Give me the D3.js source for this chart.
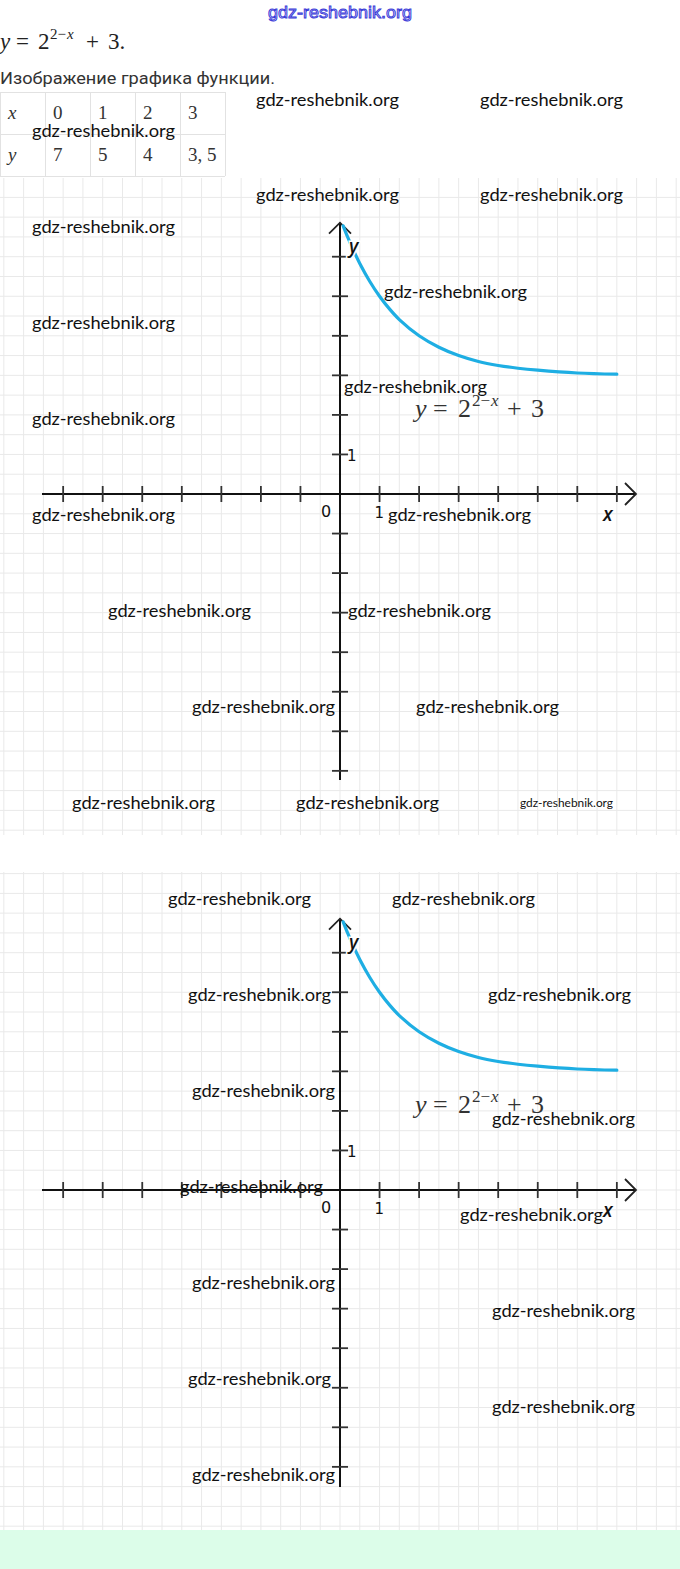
<!DOCTYPE html>
<html><head><meta charset="utf-8">
<script src="https://cdn.jsdelivr.net/npm/d3@7/dist/d3.min.js"></script>
<style>html,body{margin:0;padding:0;background:#fff;}svg{display:block;}</style>
</head><body>
<script>
// ---- data ----
const tableX = ["0","1","2","3"];
const tableY = ["7","5","4","3, 5"];
const curveX = [0.08, 0.2, 0.35, 0.5, 0.75, 1, 1.25, 1.5, 2, 2.5, 3, 3.5, 4, 4.5, 5, 6, 7];
const curveY = [6.78, 6.48, 6.14, 5.83, 5.38, 5, 4.68, 4.41, 4, 3.71, 3.5, 3.35, 3.25, 3.18, 3.13, 3.06, 3.03];
const xTicks = [-7,-6,-5,-4,-3,-2,-1,1,2,3,4,5,6,7];
const yTicks = [-7,-6,-5,-4,-3,-2,-1,1,2,3,4,5,6];
const watermark = "gdz-reshebnik.org";
// watermark anchors [left, centerY, width]
const marks1 = [[256,100,143],[480,100,143],[32,131,143],[256,195,143],[480,195,143],[32,227,143],[384,292,143],[32,323,143],[344,387,143],[32,419,143],[32,515,143],[388,515,143],[108,611,143],[348,611,143],[192,707,143],[416,707,143],[72,803,143],[296,803,143],[520,801,93]];
const marks2 = [[168,899,143],[392,899,143],[188,995,143],[488,995,143],[192,1091,143],[492,1119,143],[180,1187,143],[460,1215,143],[192,1283,143],[492,1311,143],[188,1379,143],[492,1407,143],[192,1475,143]];

const W = 680, H = 1569;
const svg = d3.select("body").append("svg").attr("width", W).attr("height", H);

// bottom band
svg.append("rect").attr("x",0).attr("y",1530).attr("width",W).attr("height",H-1530).attr("fill","#dcfde9");

const serif = "'Liberation Serif','DejaVu Serif',serif";

// formula helper: parts [text, x, dy, size, italic]
function formula(parent, baseY, parts, color) {
  const t = parent.append("text").attr("y", baseY).attr("font-family", serif).attr("fill", color);
  parts.forEach(p => {
    t.append("tspan").attr("x", p[1]).attr("y", baseY + p[2]).attr("font-size", p[3])
      .attr("font-style", p[4] ? "italic" : "normal").text(p[0]);
  });
}

// header
formula(svg, 49, [["y",0,0,23,true],["=",16,0,23,false],["2",38,0,23,false],["2−",50,-10,15,false],["x",67,-10,15,true],["+",86,0,23,false],["3.",108,0,23,false]], "#222");

svg.append("text").attr("x",0).attr("y",84).attr("font-family","Roboto,'Noto Sans',sans-serif")
  .attr("font-size",17).attr("fill","#333").attr("textLength",275).attr("lengthAdjust","spacingAndGlyphs")
  .text("Изображение графика функции.");

// table
const colX = [0,45,90,135,180,225];
const rowY = [92,134,176];
const tb = svg.append("g");
colX.forEach(x => tb.append("line").attr("x1",x+0.5).attr("x2",x+0.5).attr("y1",rowY[0]).attr("y2",rowY[2]).attr("stroke","#e2e2e2"));
rowY.forEach(y => tb.append("line").attr("x1",0).attr("x2",225).attr("y1",y+0.5).attr("y2",y+0.5).attr("stroke","#e2e2e2"));
tb.append("text").attr("x",8).attr("y",119).attr("font-family",serif).attr("font-style","italic").attr("font-size",19).attr("fill","#333").text("x");
tb.append("text").attr("x",8).attr("y",161).attr("font-family",serif).attr("font-style","italic").attr("font-size",19).attr("fill","#333").text("y");
tableX.forEach((t,i) => tb.append("text").attr("x",colX[i+1]+8).attr("y",119).attr("font-family",serif).attr("font-size",19).attr("fill","#333").text(t));
tableY.forEach((t,i) => tb.append("text").attr("x",colX[i+1]+8).attr("y",161).attr("font-family",serif).attr("font-size",19).attr("fill","#333").text(t));

// graphs
const unit = 39.55;
const x = d3.scaleLinear().domain([-7,7]).range([340-7*unit, 340+7*unit]);

function drawGraph(axisY, gridTop, gridBottom, axisBottom) {
  const y = d3.scaleLinear().domain([-7,7]).range([axisY+7*unit, axisY-7*unit]);
  const g = svg.append("g");
  // grid
  const gx = d3.range(-17,18).map(k => x(0) + k*unit/2);
  const gy = d3.range(-20,20).map(k => y(0) + k*unit/2).filter(v => v>=gridTop && v<=gridBottom);
  gx.forEach(v => g.append("line").attr("x1",v).attr("x2",v).attr("y1",gridTop).attr("y2",gridBottom).attr("stroke","#e9e9e9").attr("stroke-width",1));
  gy.forEach(v => g.append("line").attr("x1",0).attr("x2",W).attr("y1",v).attr("y2",v).attr("stroke","#e9e9e9").attr("stroke-width",1));
  // axes
  g.append("line").attr("x1",42).attr("x2",636).attr("y1",y(0)).attr("y2",y(0)).attr("stroke","#111").attr("stroke-width",2);
  g.append("path").attr("d",`M${625},${y(0)-11}L636,${y(0)}L${625},${y(0)+11}`).attr("fill","none").attr("stroke","#222").attr("stroke-width",1.8);
  const tipY = y(7) + 5.5;
  g.append("line").attr("x1",x(0)).attr("x2",x(0)).attr("y1",axisBottom).attr("y2",tipY).attr("stroke","#111").attr("stroke-width",2);
  g.append("path").attr("d",`M${x(0)-11},${tipY+11}L${x(0)},${tipY}L${x(0)+11},${tipY+11}`).attr("fill","none").attr("stroke","#222").attr("stroke-width",1.8);
  // ticks
  xTicks.forEach(t => g.append("line").attr("x1",x(t)).attr("x2",x(t)).attr("y1",y(0)-8).attr("y2",y(0)+8).attr("stroke","#333").attr("stroke-width",1.8));
  yTicks.forEach(t => g.append("line").attr("x1",x(0)-8).attr("x2",x(0)+8).attr("y1",y(t)).attr("y2",y(t)).attr("stroke","#333").attr("stroke-width",1.8));
  // curve
  const pts = curveX.map((v,i) => [v, curveY[i]]);
  const line = d3.line().x(d => x(d[0])).y(d => y(d[1])).curve(d3.curveCatmullRom);
  g.append("path").attr("d", line(pts)).attr("fill","none").attr("stroke","#1eaee3").attr("stroke-width",3.2).attr("stroke-linecap","round");
  // labels
  const sans = "'DejaVu Sans','Open Sans',sans-serif";
  g.append("text").attr("x",x(0)-19).attr("y",y(0)+23).attr("font-family",sans).attr("font-size",16).attr("fill","#111").text("0");
  g.append("text").attr("x",x(1)-5).attr("y",y(0)+24).attr("font-family",sans).attr("font-size",15).attr("fill","#111").text("1");
  g.append("text").attr("x",x(0)+7).attr("y",y(1)+7).attr("font-family",sans).attr("font-size",15).attr("fill","#111").text("1");
  g.append("text").attr("x",603).attr("y",y(0)+27).attr("font-family","'Open Sans',sans-serif").attr("font-style","italic").attr("font-weight",600).attr("font-size",19).attr("fill","#111").text("x");
  g.append("text").attr("x",x(0)+9).attr("y",y(6)-4).attr("font-family","'Open Sans',sans-serif").attr("font-style","italic").attr("font-weight",600).attr("font-size",19).attr("fill","#111")
    .attr("stroke","#fff").attr("stroke-width",3).attr("paint-order","stroke").text("y");
  // formula
  formula(g, y(2)+2, [["y",415,0,26,true],["=",433,0,26,false],["2",458,0,26,false],["2−",472,-11,17,false],["x",491,-11,17,true],["+",507,0,26,false],["3",531,0,26,false]], "#333");
}
drawGraph(494, 178, 835, 780);
drawGraph(1190, 872, 1530, 1487);

// watermarks
function drawMarks(list) {
  list.forEach(m => {
    svg.append("text").attr("x",m[0]).attr("y",m[1]+6).attr("font-family","Lato,'Open Sans',sans-serif")
      .attr("font-size", m[2] > 100 ? 17 : 12).attr("fill","#111")
      .attr("textLength",m[2]).attr("lengthAdjust","spacingAndGlyphs").text(watermark);
  });
}
drawMarks(marks1);
drawMarks(marks2);
svg.append("text").attr("x",268).attr("y",18).attr("font-family","'Liberation Sans Narrow','Liberation Sans',sans-serif")
  .attr("font-size",17).attr("fill","#d8d8fa").attr("stroke","#3a3ad8").attr("stroke-width",0.9)
  .attr("textLength",144).attr("lengthAdjust","spacingAndGlyphs").text(watermark);
</script>
</body></html>
